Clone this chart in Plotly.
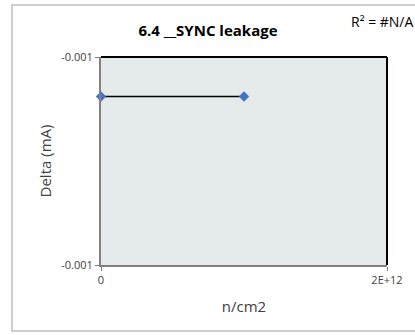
import plotly.graph_objects as go

fluence = [0, 1e12]
delta_ma = [-0.000979, -0.000979]
x_tick_vals = [0, 2e12]
x_tick_text = ["0", "2E+12"]
y_tick_vals = [-0.00106, -0.00096]
y_tick_text = ["-0.001", "-0.001"]

fig = go.Figure()
fig.add_trace(go.Scatter(
    x=fluence, y=delta_ma, mode="lines+markers",
    line=dict(color="black", width=1.5),
    marker=dict(symbol="diamond", size=8, color="#4472C4"),
    showlegend=False, cliponaxis=False, hoverinfo="skip",
))

font = "Open Sans, Liberation Sans, sans-serif"
L, R, T, B = 101, 387, 57, 265
PW, PH = R - L, B - T
fig.update_layout(
    width=415, height=335,
    margin=dict(l=L, r=415 - R, t=T, b=335 - B, autoexpand=False),
    paper_bgcolor="white", plot_bgcolor="#E5EBEB",
    font=dict(family=font, color="#404040", size=10),
    title=dict(text="<b>6.4 __SYNC leakage</b>", x=(208) / 415, xanchor="center", y=1 - 31 / 335, yanchor="middle",
               font=dict(size=15, color="black", family=font)),
    xaxis=dict(range=[0, 2e12], tickvals=x_tick_vals, ticktext=x_tick_text, showgrid=False, zeroline=False,
               showline=True, linecolor="#808080", linewidth=2, ticks="outside", ticklen=4, tickcolor="#808080",
               title=dict(text="n/cm2", font=dict(size=15, color="#404040"), standoff=15),
               tickfont=dict(size=11, color="#404040")),
    yaxis=dict(range=[-0.00106, -0.00096], tickvals=y_tick_vals, ticktext=y_tick_text, showgrid=False, zeroline=False,
               showline=True, linecolor="#808080", linewidth=2, ticks="outside", ticklen=4, tickcolor="#808080",
               title=dict(text="Delta (mA)", font=dict(size=15, color="#404040"), standoff=6),
               tickfont=dict(size=11, color="#404040")),
    shapes=[
        dict(type="line", xref="paper", yref="paper", x0=0, x1=1, y0=1, y1=1, line=dict(color="black", width=2)),
        dict(type="line", xref="paper", yref="paper", x0=1, x1=1, y0=0, y1=1, line=dict(color="black", width=2)),
        dict(type="rect", xref="paper", yref="paper", x0=(12 - L) / PW, x1=(430 - L) / PW,
             y0=-(331 - B) / PH, y1=1 + (T - 5) / PH,
             line=dict(color="#BFBFBF", width=1.5)),
    ],
    annotations=[
        dict(text="R² = #N/A", xref="paper", yref="paper", x=(416 - L) / PW, y=1 + (T - 22) / PH,
             xanchor="right", yanchor="middle", showarrow=False, font=dict(size=14, color="black", family=font)),
    ],
)
fig.write_html("out.html", config={"displayModeBar": False},
               post_script="document.body.style.margin='0';document.body.style.overflow='hidden';")
